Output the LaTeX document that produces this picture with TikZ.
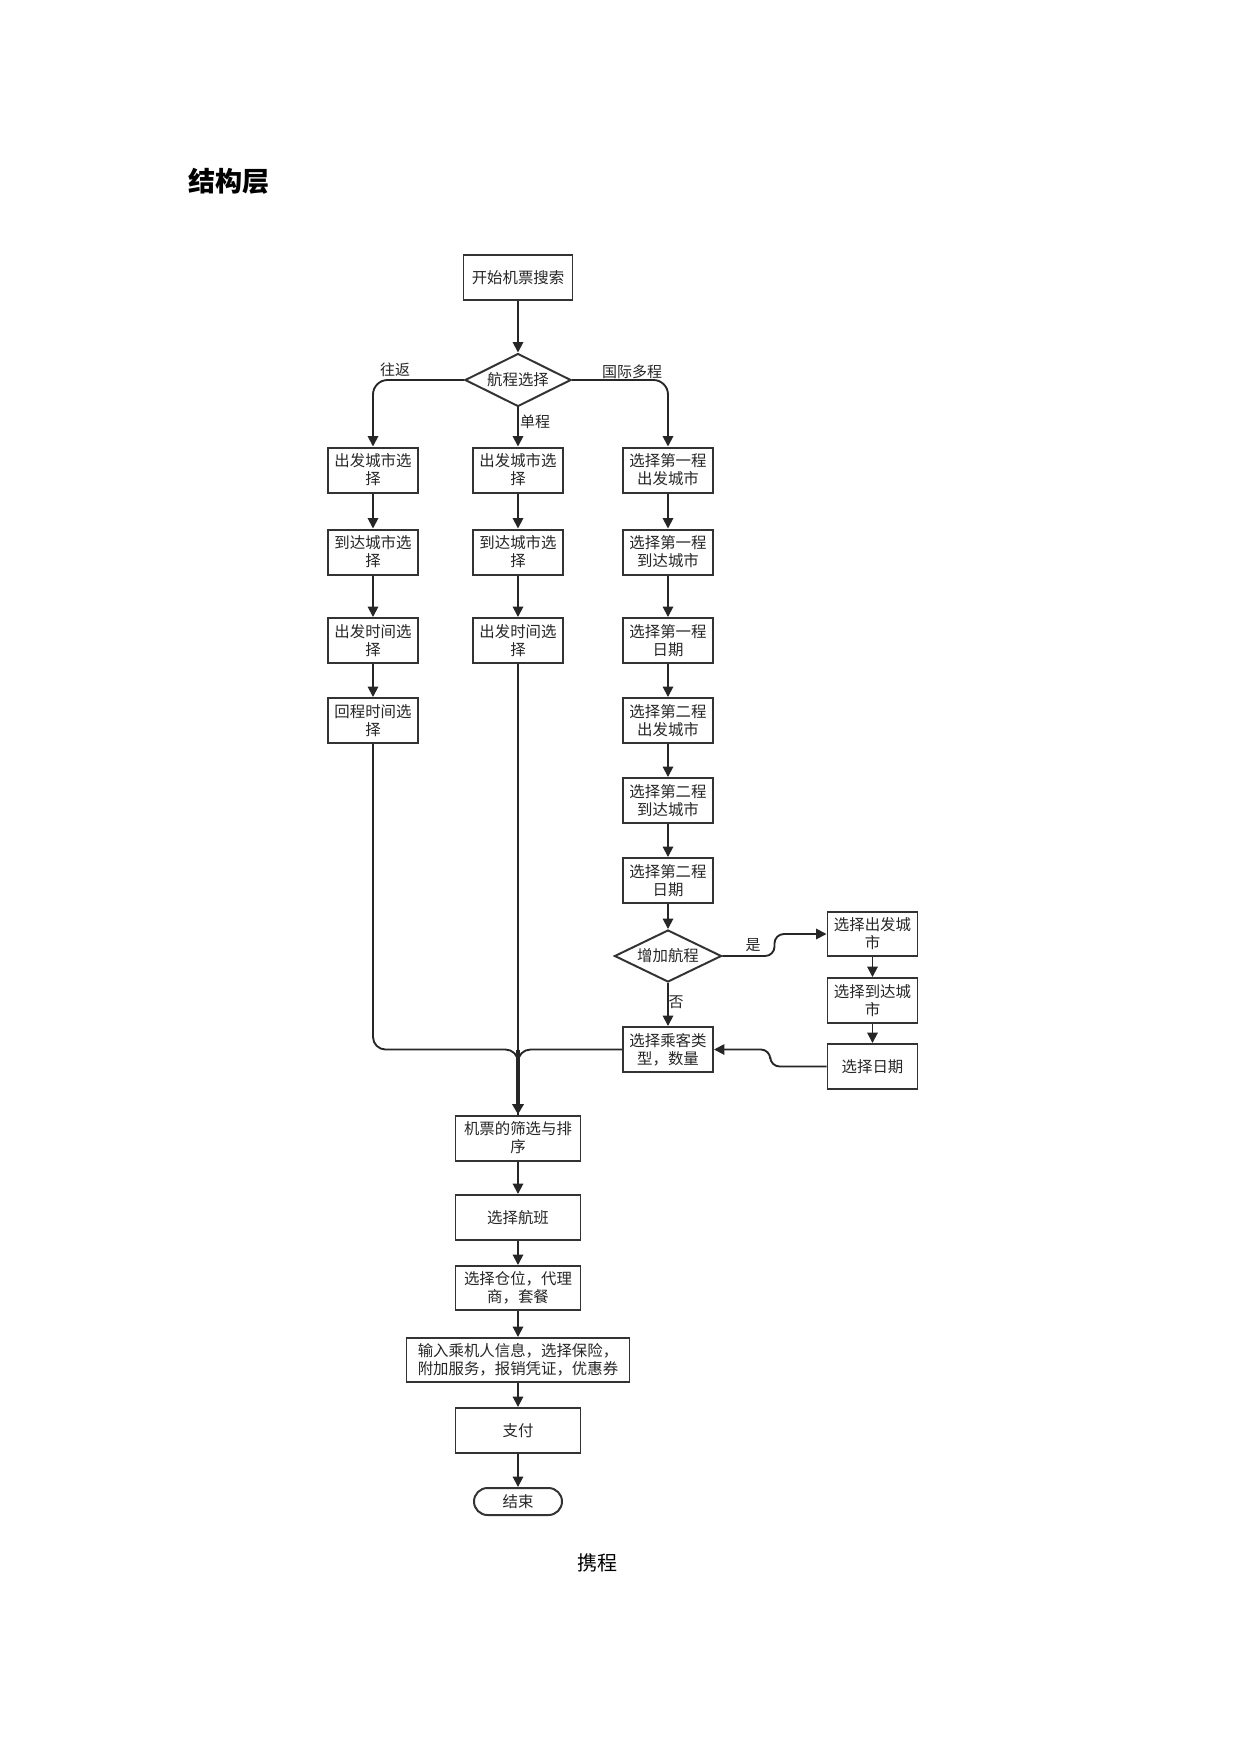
\documentclass[tikz,border=0pt]{standalone}
\usepackage{fontspec}
\setmainfont{Noto Sans CJK SC}
\usetikzlibrary{shapes.geometric,arrows.meta,calc}
\begin{document}
\begin{tikzpicture}[x=0.48pt,y=-0.48pt,
  every node/.style={font=\fontsize{7.4}{8.7}\selectfont, text=black!85},
  box/.style={draw=black!80, line width=0.95pt, rectangle, inner sep=0pt,
    align=center, minimum width={90*0.48pt}, minimum height={45*0.48pt}},
  widebox/.style={box, minimum width={125*0.48pt}},
  choice/.style={draw=black!80, line width=0.95pt, diamond, aspect=2, inner sep=0pt,
    minimum width={106*0.48pt}, minimum height={53*0.48pt}},
  endbox/.style={draw=black!80, line width=0.95pt, rectangle, rounded corners=6.5pt,
    inner sep=0pt, minimum width={88*0.48pt}, minimum height={27*0.48pt}},
  flow/.style={draw=black!85, line width=0.9pt, -{Triangle[width=5pt,length=5pt]}},
  line/.style={draw=black!85, line width=0.9pt},
  lbl/.style={inner sep=0pt, font=\fontsize{7.2}{8.7}\selectfont}
]
\useasboundingbox (0,0) rectangle (1239,1754);

% heading and caption
\node[anchor=west, inner sep=0pt, font=\fontsize{13}{15}\selectfont\bfseries, text=black] (title) at (188,181) {结构层};
\node[inner sep=0pt, font=\fontsize{9.6}{11}\selectfont, text=black] (caption) at (597,1563) {携程};

% start and trip type
\node[box, minimum width={109*0.48pt}] (start) at (518,277.5) {开始机票搜索};
\node[choice] (d1) at (518,380) {航程选择};

% round trip column
\node[box] (L1) at (373,470) {出发城市选\\择};
\node[box] (L2) at (373,552) {到达城市选\\择};
\node[box] (L3) at (373,640.5) {出发时间选\\择};
\node[box] (L4) at (373,720.5) {回程时间选\\择};

% one-way column
\node[box] (M1) at (518,470) {出发城市选\\择};
\node[box] (M2) at (518,552) {到达城市选\\择};
\node[box] (M3) at (518,640.5) {出发时间选\\择};

% multi-city column
\node[box] (R1) at (668,470) {选择第一程\\出发城市};
\node[box] (R2) at (668,552) {选择第一程\\到达城市};
\node[box] (R3) at (668,640.5) {选择第一程\\日期};
\node[box] (R4) at (668,720.5) {选择第二程\\出发城市};
\node[box] (R5) at (668,800.5) {选择第二程\\到达城市};
\node[box] (R6) at (668,880.5) {选择第二程\\日期};
\node[choice, minimum width={107*0.48pt}, minimum height={52*0.48pt}] (d2) at (668,956) {增加航程};
\node[box] (P) at (668,1049.5) {选择乘客类\\型，数量};

% extra legs
\node[box, minimum height={44*0.48pt}] (S1) at (872.5,934) {选择出发城\\市};
\node[box] (S2) at (872.5,1000.5) {选择到达城\\市};
\node[box] (S3) at (872.5,1066.5) {选择日期};

% common steps
\node[widebox] (F1) at (518,1138) {机票的筛选与排\\序};
\node[widebox] (F2) at (518,1217.5) {选择航班};
\node[widebox, minimum height={44*0.48pt}] (F3) at (518,1288) {选择仓位，代理\\商，套餐};
\node[box, minimum width={223*0.48pt}, minimum height={44*0.48pt}] (F4) at (518,1360) {输入乘机人信息，选择保险，\\附加服务，报销凭证，优惠券};
\node[widebox] (F5) at (518,1430.5) {支付};
\node[endbox] (E) at (518,1501.5) {结束};

% connectors
\draw[flow] (start) -- (d1);
\draw[flow, rounded corners=7pt] (d1.west) -| (L1.north);
\draw[flow] (d1.south) -- (M1.north);
\draw[flow, rounded corners=7pt] (d1.east) -| (R1.north);
\node[lbl] (tRound) at (395,370) {往返};
\node[lbl] (tOne) at (535,422) {单程};
\node[lbl] (tMulti) at (632,372) {国际多程};

\draw[flow] (L1) -- (L2);
\draw[flow] (L2) -- (L3);
\draw[flow] (L3) -- (L4);
\draw[flow] (M1) -- (M2);
\draw[flow] (M2) -- (M3);
\draw[flow] (R1) -- (R2);
\draw[flow] (R2) -- (R3);
\draw[flow] (R3) -- (R4);
\draw[flow] (R4) -- (R5);
\draw[flow] (R5) -- (R6);
\draw[flow] (R6) -- (d2.north);
\draw[flow] (d2.south) -- (P.north);
\node[lbl] (tNo) at (676,1002) {否};

% stepped connectors to and from the extra legs
\coordinate (yesMid) at ($(d2.east)!.5!(S1.west)$);
\draw[flow, rounded corners=4.5pt] (d2.east) -- (yesMid |- d2.east) -- (yesMid |- S1.west) -- (S1.west);
\node[lbl] (tYes) at (753,945) {是};
\draw[flow] (S1) -- (S2);
\draw[flow] (S2) -- (S3);
\coordinate (backMid) at ($(S3.west)!.5!(P.east)$);
\draw[flow, rounded corners=4.5pt] (S3.west) -- (backMid |- S3.west) -- (backMid |- P.east) -- (P.east);

% merging into the common steps
\coordinate (j) at (M3.south |- P.west);
\draw[line, rounded corners=6pt] (L4.south) |- (j) -- (F1.north);
\draw[line, rounded corners=6pt] (P.west) -- (j) -- (F1.north);
\draw[line] (M3.south) -- (F1.north);
\draw[draw=black!85, line width=1.9pt, -{Triangle[width=5.4pt,length=5pt]}] (j) -- (F1.north);

\draw[flow] (F1) -- (F2);
\draw[flow] (F2) -- (F3);
\draw[flow] (F3) -- (F4);
\draw[flow] (F4) -- (F5);
\draw[flow] (F5) -- (E);
\end{tikzpicture}
\end{document}
